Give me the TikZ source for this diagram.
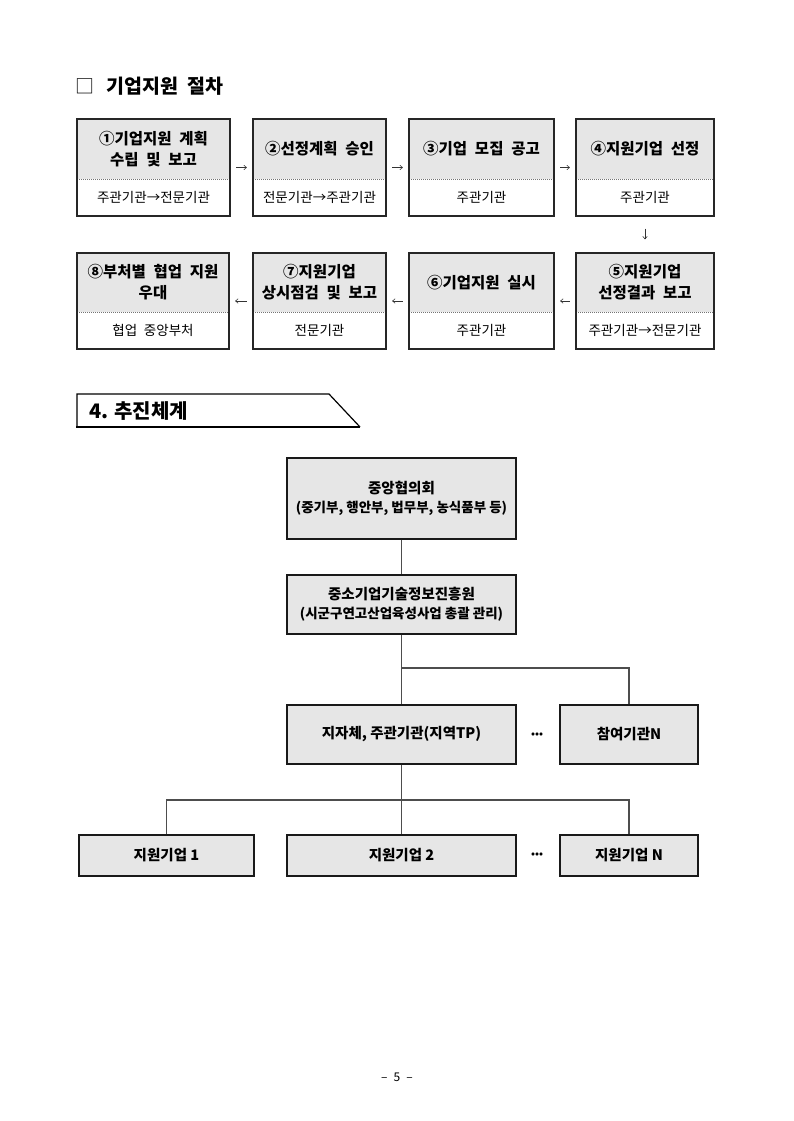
\documentclass[tikz,border=0pt]{standalone}
\usepackage{fontspec}
\setmainfont{Noto Sans CJK KR}
\usetikzlibrary{fit,arrows.meta}
\definecolor{boxgray}{HTML}{E6E6E6}
\definecolor{linegray}{HTML}{4D4D4D}
\newcommand\widesp{\spaceskip=0.5em plus 0.1em\relax}
\tikzset{
 frame/.style={draw=black!85, line width=1.3pt, inner sep=0pt},
 sepline/.style={draw=black!55, line width=0.9pt, dash pattern=on 1pt off 1pt},
 ptitle/.style={font=\fontsize{15.5}{21}\selectfont\bfseries\widesp, align=center, inner sep=0pt},
 psub/.style={font=\fontsize{13.5}{16}\selectfont\widesp, inner sep=0pt},
 flowarr/.style={-{Straight Barb[length=2.5pt,width=4.5pt]}, line width=0.6pt, draw=black!80},
 orgbox/.style={draw=black!90, fill=boxgray, line width=1.3pt, inner sep=0pt, font=\fontsize{14.5}{19}\selectfont\bfseries, align=center},
 orgline/.style={draw=linegray, line width=1.1pt},
 dots/.style={font=\fontsize{10}{10}\selectfont\bfseries, inner sep=0pt},
}
\newcommand\procbox[8]{%
 \fill[boxgray] (#2,#4) rectangle (#3,#5);
 \draw[sepline] (#2,#5) -- (#3,#5);
 \node[frame, fit={(#2,#4) (#3,#6)}] (#1) {};
 \node[ptitle] (#1t) at ({(#2+#3)/2},{(#4+#5)/2}) {#7};
 \node[psub] (#1s) at ({(#2+#3)/2},{(#5+#6)/2}) {#8};
}
\newcommand\smline{\fontsize{13.5}{19}\selectfont}
\begin{document}
\begin{tikzpicture}[x=1pt,y=-1pt]
\useasboundingbox[fill=white] (0,0) rectangle (793,1121);
% title
\node[font=\fontsize{19}{22}\selectfont, inner sep=0pt] (sq) at (85,86) {□};
\node[font=\fontsize{19.5}{22}\selectfont\bfseries\widesp, anchor=west, inner sep=0pt] (ttl) at (106,86) {기업지원 절차};
% process boxes
\procbox{b1}{77}{230}{119}{179}{216}{①기업지원 계획\\수립 및 보고}{주관기관→전문기관}
\procbox{b2}{253}{386}{119}{179}{216}{②선정계획 승인}{전문기관→주관기관}
\procbox{b3}{409}{554}{119}{179}{216}{③기업 모집 공고}{주관기관}
\procbox{b4}{576}{714}{119}{179}{216}{④지원기업 선정}{주관기관}
\procbox{b8}{77}{229}{253}{312}{349}{⑧부처별 협업 지원\\우대}{협업 중앙부처}
\procbox{b7}{253}{386}{253}{312}{349}{⑦지원기업\\상시점검 및 보고}{전문기관}
\procbox{b6}{409}{554}{253}{312}{349}{⑥기업지원 실시}{주관기관}
\procbox{b5}{576}{714}{253}{312}{349}{⑤지원기업\\선정결과 보고}{주관기관→전문기관}
\draw[flowarr, shorten <=5.5pt, shorten >=5.5pt] (b1.east) -- (b2.west);
\draw[flowarr, shorten <=5.5pt, shorten >=5.5pt] (b2.east) -- (b3.west);
\draw[flowarr, shorten <=5.5pt, shorten >=5.5pt] (b3.east) -- (b4.west);
\draw[flowarr, shorten <=12pt, shorten >=13pt] (b4.south) -- (b5.north);
\draw[flowarr, shorten <=5.5pt, shorten >=5.5pt] (b5.west) -- (b6.east);
\draw[flowarr, shorten <=5.5pt, shorten >=5.5pt] (b6.west) -- (b7.east);
\draw[flowarr, shorten <=5.5pt, shorten >=5.5pt] (b7.west) -- (b8.east);
% section header
\draw[line width=1.2pt, line join=miter] (77,427) -- (77,394) -- (329,394) -- (360,427);
\draw[line width=2pt] (76.4,427) -- (360,427);
\node[font=\fontsize{20}{24}\selectfont\bfseries, anchor=west, inner sep=0pt] (sec) at (89,411) {4. 추진체계};
% org chart
\node[orgbox, minimum width=229pt, minimum height=81pt] (A) at (401.5,498.5) {중앙협의회\\{\smline(중기부, 행안부, 법무부, 농식품부 등)}};
\node[orgbox, minimum width=229pt, minimum height=59pt] (B) at (401.5,604.5) {중소기업기술정보진흥원\\{\smline(시군구연고산업육성사업 총괄 관리)}};
\node[orgbox, minimum width=229pt, minimum height=59pt] (C) at (401.5,734.5) {지자체, 주관기관(지역TP)};
\node[orgbox, minimum width=138pt, minimum height=59pt] (P) at (629,734.5) {참여기관N};
\node[orgbox, minimum width=175pt, minimum height=41pt] (E1) at (166.5,855.5) {지원기업 1};
\node[orgbox, minimum width=229pt, minimum height=41pt] (E2) at (401.5,855.5) {지원기업 2};
\node[orgbox, minimum width=138pt, minimum height=41pt] (EN) at (629,855.5) {지원기업 N};
\node[dots] (d1) at (537,735) {•••};
\node[dots] (d2) at (537,855.5) {•••};
\coordinate (j1) at (401.5,668);
\coordinate (j2) at (401.5,800);
\draw[orgline] (A.south) -- (B.north);
\draw[orgline] (B.south) -- (C.north);
\draw[orgline] (j1) -| (P.north);
\draw[orgline] (C.south) -- (E2.north);
\draw[orgline] (E1.north) |- (j2) -| (EN.north);
% page number
\node[font=\fontsize{12}{14}\selectfont\widesp, inner sep=0pt] (pg) at (397,1077) {– 5 –};
\end{tikzpicture}
\end{document}
